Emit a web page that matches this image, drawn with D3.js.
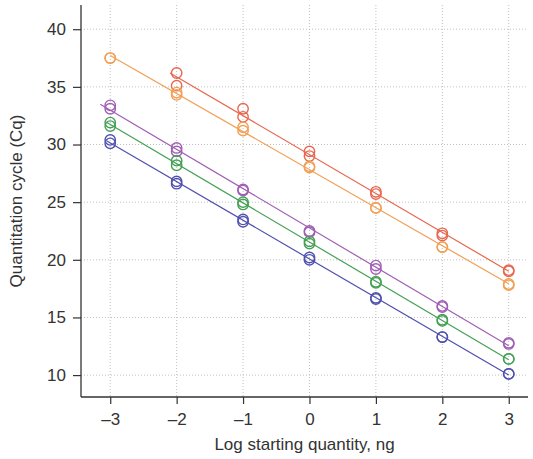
<!DOCTYPE html>
<html><head><meta charset="utf-8">
<script src="https://cdn.jsdelivr.net/npm/d3@7"></script>
<style>body{margin:0;background:#fff}svg{display:block}</style>
</head><body>
<svg id="c" width="533" height="459"></svg>
<script>
const xTicks = [-3, -2, -1, 0, 1, 2, 3];
const yTicks = [10, 15, 20, 25, 30, 35, 40];
const seriesNames = ["red", "orange", "purple", "green", "blue"];
const seriesColors = ["#e8674f", "#f2a055", "#9f5fb5", "#45a055", "#5050b0"];
const lineStart = [-2.1, -3.0, -3.15, -3.05, -3.05];
// points: [x, Cq]
const redPts = [[-2,36.2],[-2,35.1],[-1,33.1],[-1,32.4],[0,29.4],[0,29.0],[1,25.9],[1,25.7],[2,22.3],[2,22.1],[3,19.1],[3,19.0]];
const orangePts = [[-3,37.5],[-3,37.5],[-2,34.5],[-2,34.3],[-1,31.5],[-1,31.2],[0,28.1],[0,28.0],[1,24.5],[1,24.5],[2,21.1],[2,21.1],[3,17.9],[3,17.8]];
const purplePts = [[-3,33.4],[-3,33.1],[-2,29.7],[-2,29.4],[-1,26.1],[-1,26.0],[0,22.5],[0,22.4],[1,19.5],[1,19.2],[2,16.0],[2,15.9],[3,12.8],[3,12.7]];
const greenPts = [[-3,31.9],[-3,31.6],[-2,28.6],[-2,28.2],[-1,25.0],[-1,24.8],[0,21.6],[0,21.4],[1,18.1],[1,18.0],[2,14.8],[2,14.7],[3,11.4],[3,11.4]];
const bluePts = [[-3,30.4],[-3,30.1],[-2,26.8],[-2,26.6],[-1,23.5],[-1,23.3],[0,20.2],[0,20.0],[1,16.7],[1,16.6],[2,13.3],[2,13.3],[3,10.1],[3,10.1]];
const allPts = [redPts, orangePts, purplePts, greenPts, bluePts];

const svg = d3.select("#c");
const L = 81, R = 528, T = 5, B = 397;
const x = d3.scaleLinear().domain([-3.44, 3.29]).range([L, R]);
const y = d3.scaleLinear().domain([8.1, 42.1]).range([B, T]);
const font = "'Liberation Sans', Arial, Helvetica, sans-serif";

// grid
const g = svg.append("g");
g.selectAll(".gx").data(xTicks).join("line")
  .attr("x1", d => x(d)).attr("x2", d => x(d)).attr("y1", T).attr("y2", B)
  .attr("stroke", "#c0c0c0").attr("stroke-width", 1).attr("stroke-dasharray", "1,2");
g.selectAll(".gy").data(yTicks).join("line")
  .attr("x1", L).attr("x2", R).attr("y1", d => y(d)).attr("y2", d => y(d))
  .attr("stroke", "#c0c0c0").attr("stroke-width", 1).attr("stroke-dasharray", "1,2");

// regression lines
allPts.forEach((pts, i) => {
  const mx = d3.mean(pts, p => p[0]), my = d3.mean(pts, p => p[1]);
  const sxy = d3.sum(pts, p => (p[0]-mx)*(p[1]-my));
  const sxx = d3.sum(pts, p => (p[0]-mx)**2);
  const b = sxy / sxx, a = my - b*mx;
  const x0 = lineStart[i], x1 = 3;
  svg.append("line")
    .attr("x1", x(x0)).attr("y1", y(a + b*x0))
    .attr("x2", x(x1)).attr("y2", y(a + b*x1))
    .attr("stroke", seriesColors[i]).attr("stroke-width", 1.2);
});

// points
allPts.forEach((pts, i) => {
  svg.append("g").selectAll("circle").data(pts).join("circle")
    .attr("cx", d => x(d[0])).attr("cy", d => y(d[1])).attr("r", 5.2)
    .attr("fill", "none").attr("stroke", seriesColors[i]).attr("stroke-width", 1.4);
});

// axes
const fmt = d => d < 0 ? "\u2013" + Math.abs(d) : String(d);
const xa = svg.append("g").attr("transform", `translate(0,${B})`)
  .call(d3.axisBottom(x).tickValues(xTicks).tickFormat(fmt).tickSize(7).tickPadding(9));
const ya = svg.append("g").attr("transform", `translate(${L},0)`)
  .call(d3.axisLeft(y).tickValues(yTicks).tickSize(8).tickPadding(7));
[xa, ya].forEach(a => {
  a.select(".domain").remove();
  a.selectAll("line").attr("stroke", "#333").attr("stroke-width", 1.2);
  a.selectAll("text").attr("font-family", font).attr("font-size", 17).attr("fill", "#333");
});
// frame lines
svg.append("line").attr("x1", L).attr("x2", L).attr("y1", T).attr("y2", B).attr("stroke", "#333").attr("stroke-width", 1.3);
svg.append("line").attr("x1", L).attr("x2", R).attr("y1", B).attr("y2", B).attr("stroke", "#333").attr("stroke-width", 1.3);

svg.append("text").attr("x", (L+R)/2).attr("y", 450).attr("text-anchor", "middle")
  .attr("font-family", font).attr("font-size", 17).attr("fill", "#333").text("Log starting quantity, ng");
svg.append("text").attr("transform", `translate(22,${(T+B)/2}) rotate(-90)`).attr("text-anchor", "middle")
  .attr("font-family", font).attr("font-size", 17).attr("fill", "#333").text("Quantitation cycle (Cq)");
</script>
</body></html>
